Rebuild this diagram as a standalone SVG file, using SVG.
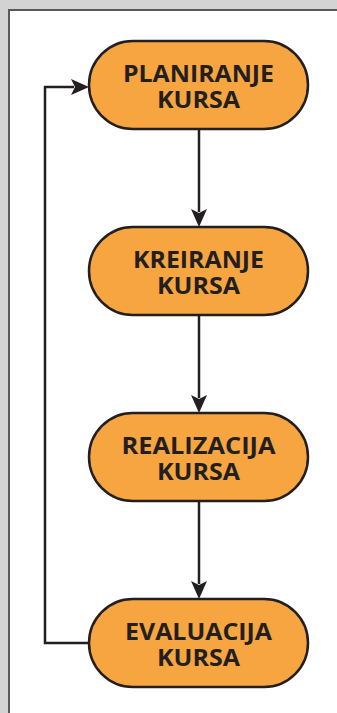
<svg xmlns="http://www.w3.org/2000/svg" width="337" height="713" viewBox="0 0 337 713">
<defs>
<style>
.node rect{fill:#f7a540;stroke:#231f20;stroke-width:2.5}
.node text{font-family:"Open Sans","Noto Sans",sans-serif;font-weight:bold;font-size:24px;fill:#231f20;text-anchor:middle}
.conn path.l{fill:none;stroke:#231f20;stroke-width:2.5}
.conn path.h{fill:#231f20;stroke:none}
</style>
</defs>
<rect x="0" y="0" width="337" height="713" fill="#d3d3d4"/>
<rect x="9" y="10" width="340" height="720" fill="#ffffff" stroke="#58595b" stroke-width="2"/>
<g id="connectors" class="conn">
<path class="l" d="M199 129 V212"/>
<path class="h" d="M199 227 L191 209 L199 213 L207 209 Z"/>
<path class="l" d="M199 315 V398"/>
<path class="h" d="M199 413 L191 395 L199 399 L207 395 Z"/>
<path class="l" d="M199 501 V584"/>
<path class="h" d="M199 599 L191 581 L199 585 L207 581 Z"/>
<path class="l" d="M89 643 H45 V87 H74"/>
<path class="h" d="M89 87 L71 79 L75 87 L71 95 Z"/>
</g>
<g id="node1" class="node">
<rect x="89" y="41" width="219" height="88" rx="44"/>
<text x="198.5" y="82" textLength="151" lengthAdjust="spacingAndGlyphs">PLANIRANJE</text>
<text x="198.5" y="108" textLength="83" lengthAdjust="spacingAndGlyphs">KURSA</text>
</g>
<g id="node2" class="node">
<rect x="89" y="227" width="219" height="88" rx="44"/>
<text x="198.5" y="268" textLength="131" lengthAdjust="spacingAndGlyphs">KREIRANJE</text>
<text x="198.5" y="294" textLength="83" lengthAdjust="spacingAndGlyphs">KURSA</text>
</g>
<g id="node3" class="node">
<rect x="89" y="413" width="219" height="88" rx="44"/>
<text x="198.5" y="454" textLength="154" lengthAdjust="spacingAndGlyphs">REALIZACIJA</text>
<text x="198.5" y="480" textLength="83" lengthAdjust="spacingAndGlyphs">KURSA</text>
</g>
<g id="node4" class="node">
<rect x="89" y="599" width="219" height="88" rx="44"/>
<text x="198.5" y="640" textLength="147" lengthAdjust="spacingAndGlyphs">EVALUACIJA</text>
<text x="198.5" y="666" textLength="83" lengthAdjust="spacingAndGlyphs">KURSA</text>
</g>
</svg>
